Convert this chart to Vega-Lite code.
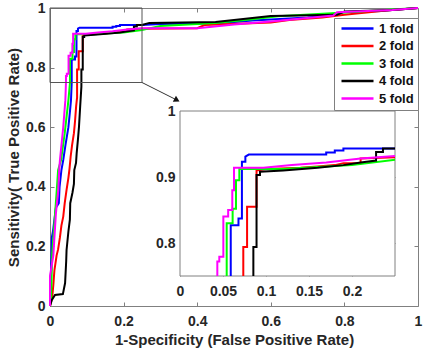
{
  "$schema": "https://vega.github.io/schema/vega-lite/v6.json",
  "width": 368,
  "height": 298,
  "autosize": {"type": "none"},
  "padding": {"left": 50, "top": 8, "right": 11, "bottom": 45},
  "background": "white",
  "config": {
    "font": "Liberation Sans",
    "view": {"stroke": "#808080", "strokeWidth": 1},
    "axis": {
      "grid": false,
      "domain": false,
      "labelFont": "Liberation Sans",
      "labelFontWeight": "bold",
      "labelFontSize": 14,
      "labelColor": "#262626",
      "labelFlush": false,
      "labelOverlap": false,
      "tickColor": "#808080",
      "tickSize": -4,
      "titleFont": "Liberation Sans",
      "titleFontWeight": "bold",
      "titleFontSize": 15,
      "titleColor": "#262626"
    }
  },
  "datasets": {
    "roc": [
      {"fold": "1 fold", "fpr": 0, "tpr": 0},
      {"fold": "1 fold", "fpr": 0, "tpr": 0.06},
      {"fold": "1 fold", "fpr": 0.003, "tpr": 0.12},
      {"fold": "1 fold", "fpr": 0.005, "tpr": 0.23},
      {"fold": "1 fold", "fpr": 0.008, "tpr": 0.25},
      {"fold": "1 fold", "fpr": 0.012, "tpr": 0.29},
      {"fold": "1 fold", "fpr": 0.016, "tpr": 0.33},
      {"fold": "1 fold", "fpr": 0.024, "tpr": 0.345},
      {"fold": "1 fold", "fpr": 0.026, "tpr": 0.4},
      {"fold": "1 fold", "fpr": 0.031, "tpr": 0.456},
      {"fold": "1 fold", "fpr": 0.036, "tpr": 0.49},
      {"fold": "1 fold", "fpr": 0.042, "tpr": 0.54},
      {"fold": "1 fold", "fpr": 0.05, "tpr": 0.6},
      {"fold": "1 fold", "fpr": 0.054, "tpr": 0.65},
      {"fold": "1 fold", "fpr": 0.057, "tpr": 0.69},
      {"fold": "1 fold", "fpr": 0.059, "tpr": 0.75},
      {"fold": "1 fold", "fpr": 0.059, "tpr": 0.827},
      {"fold": "1 fold", "fpr": 0.068, "tpr": 0.827},
      {"fold": "1 fold", "fpr": 0.068, "tpr": 0.837},
      {"fold": "1 fold", "fpr": 0.072, "tpr": 0.837},
      {"fold": "1 fold", "fpr": 0.072, "tpr": 0.923},
      {"fold": "1 fold", "fpr": 0.076, "tpr": 0.923},
      {"fold": "1 fold", "fpr": 0.076, "tpr": 0.931},
      {"fold": "1 fold", "fpr": 0.08, "tpr": 0.934},
      {"fold": "1 fold", "fpr": 0.17, "tpr": 0.934},
      {"fold": "1 fold", "fpr": 0.17, "tpr": 0.937},
      {"fold": "1 fold", "fpr": 0.18, "tpr": 0.937},
      {"fold": "1 fold", "fpr": 0.18, "tpr": 0.94},
      {"fold": "1 fold", "fpr": 0.19, "tpr": 0.94},
      {"fold": "1 fold", "fpr": 0.19, "tpr": 0.943},
      {"fold": "1 fold", "fpr": 0.25, "tpr": 0.943},
      {"fold": "1 fold", "fpr": 0.3, "tpr": 0.946},
      {"fold": "1 fold", "fpr": 0.45, "tpr": 0.948},
      {"fold": "1 fold", "fpr": 0.55, "tpr": 0.958},
      {"fold": "1 fold", "fpr": 0.7, "tpr": 0.968},
      {"fold": "1 fold", "fpr": 0.78, "tpr": 0.977},
      {"fold": "1 fold", "fpr": 0.79, "tpr": 0.986},
      {"fold": "1 fold", "fpr": 0.9, "tpr": 0.99},
      {"fold": "1 fold", "fpr": 0.93, "tpr": 0.993},
      {"fold": "1 fold", "fpr": 1, "tpr": 1},

      {"fold": "2 fold", "fpr": 0, "tpr": 0},
      {"fold": "2 fold", "fpr": 0.006, "tpr": 0.03},
      {"fold": "2 fold", "fpr": 0.009, "tpr": 0.07},
      {"fold": "2 fold", "fpr": 0.012, "tpr": 0.12},
      {"fold": "2 fold", "fpr": 0.018, "tpr": 0.17},
      {"fold": "2 fold", "fpr": 0.022, "tpr": 0.19},
      {"fold": "2 fold", "fpr": 0.027, "tpr": 0.23},
      {"fold": "2 fold", "fpr": 0.031, "tpr": 0.27},
      {"fold": "2 fold", "fpr": 0.036, "tpr": 0.3},
      {"fold": "2 fold", "fpr": 0.04, "tpr": 0.345},
      {"fold": "2 fold", "fpr": 0.045, "tpr": 0.39},
      {"fold": "2 fold", "fpr": 0.05, "tpr": 0.43},
      {"fold": "2 fold", "fpr": 0.053, "tpr": 0.46},
      {"fold": "2 fold", "fpr": 0.056, "tpr": 0.5},
      {"fold": "2 fold", "fpr": 0.06, "tpr": 0.54},
      {"fold": "2 fold", "fpr": 0.065, "tpr": 0.58},
      {"fold": "2 fold", "fpr": 0.068, "tpr": 0.62},
      {"fold": "2 fold", "fpr": 0.071, "tpr": 0.67},
      {"fold": "2 fold", "fpr": 0.0736, "tpr": 0.7},
      {"fold": "2 fold", "fpr": 0.0736, "tpr": 0.75},
      {"fold": "2 fold", "fpr": 0.0736, "tpr": 0.794},
      {"fold": "2 fold", "fpr": 0.078, "tpr": 0.794},
      {"fold": "2 fold", "fpr": 0.078, "tpr": 0.855},
      {"fold": "2 fold", "fpr": 0.089, "tpr": 0.855},
      {"fold": "2 fold", "fpr": 0.089, "tpr": 0.91},
      {"fold": "2 fold", "fpr": 0.1, "tpr": 0.912},
      {"fold": "2 fold", "fpr": 0.14, "tpr": 0.914},
      {"fold": "2 fold", "fpr": 0.16, "tpr": 0.916},
      {"fold": "2 fold", "fpr": 0.18, "tpr": 0.918},
      {"fold": "2 fold", "fpr": 0.19, "tpr": 0.921},
      {"fold": "2 fold", "fpr": 0.21, "tpr": 0.921},
      {"fold": "2 fold", "fpr": 0.21, "tpr": 0.928},
      {"fold": "2 fold", "fpr": 0.25, "tpr": 0.93},
      {"fold": "2 fold", "fpr": 0.4, "tpr": 0.932},
      {"fold": "2 fold", "fpr": 0.42, "tpr": 0.943},
      {"fold": "2 fold", "fpr": 0.6, "tpr": 0.951},
      {"fold": "2 fold", "fpr": 0.65, "tpr": 0.96},
      {"fold": "2 fold", "fpr": 0.74, "tpr": 0.968},
      {"fold": "2 fold", "fpr": 0.8, "tpr": 0.977},
      {"fold": "2 fold", "fpr": 0.9, "tpr": 0.99},
      {"fold": "2 fold", "fpr": 0.93, "tpr": 0.993},
      {"fold": "2 fold", "fpr": 1, "tpr": 1},

      {"fold": "3 fold", "fpr": 0, "tpr": 0},
      {"fold": "3 fold", "fpr": 0.003, "tpr": 0.03},
      {"fold": "3 fold", "fpr": 0.006, "tpr": 0.178},
      {"fold": "3 fold", "fpr": 0.0127, "tpr": 0.29},
      {"fold": "3 fold", "fpr": 0.019, "tpr": 0.4},
      {"fold": "3 fold", "fpr": 0.022, "tpr": 0.456},
      {"fold": "3 fold", "fpr": 0.03, "tpr": 0.49},
      {"fold": "3 fold", "fpr": 0.04, "tpr": 0.58},
      {"fold": "3 fold", "fpr": 0.05, "tpr": 0.69},
      {"fold": "3 fold", "fpr": 0.0543, "tpr": 0.75},
      {"fold": "3 fold", "fpr": 0.0543, "tpr": 0.83},
      {"fold": "3 fold", "fpr": 0.0612, "tpr": 0.83},
      {"fold": "3 fold", "fpr": 0.0612, "tpr": 0.852},
      {"fold": "3 fold", "fpr": 0.0651, "tpr": 0.852},
      {"fold": "3 fold", "fpr": 0.0651, "tpr": 0.895},
      {"fold": "3 fold", "fpr": 0.069, "tpr": 0.895},
      {"fold": "3 fold", "fpr": 0.069, "tpr": 0.912},
      {"fold": "3 fold", "fpr": 0.12, "tpr": 0.912},
      {"fold": "3 fold", "fpr": 0.16, "tpr": 0.915},
      {"fold": "3 fold", "fpr": 0.2, "tpr": 0.918},
      {"fold": "3 fold", "fpr": 0.25, "tpr": 0.926},
      {"fold": "3 fold", "fpr": 0.3, "tpr": 0.94},
      {"fold": "3 fold", "fpr": 0.45, "tpr": 0.95},
      {"fold": "3 fold", "fpr": 0.55, "tpr": 0.962},
      {"fold": "3 fold", "fpr": 0.62, "tpr": 0.972},
      {"fold": "3 fold", "fpr": 0.8, "tpr": 0.985},
      {"fold": "3 fold", "fpr": 0.93, "tpr": 0.995},
      {"fold": "3 fold", "fpr": 1, "tpr": 1},

      {"fold": "4 fold", "fpr": 0, "tpr": 0},
      {"fold": "4 fold", "fpr": 0.005, "tpr": 0.02},
      {"fold": "4 fold", "fpr": 0.0136, "tpr": 0.037},
      {"fold": "4 fold", "fpr": 0.035, "tpr": 0.04},
      {"fold": "4 fold", "fpr": 0.041, "tpr": 0.077},
      {"fold": "4 fold", "fpr": 0.044, "tpr": 0.15},
      {"fold": "4 fold", "fpr": 0.045, "tpr": 0.188},
      {"fold": "4 fold", "fpr": 0.05, "tpr": 0.25},
      {"fold": "4 fold", "fpr": 0.054, "tpr": 0.29},
      {"fold": "4 fold", "fpr": 0.055, "tpr": 0.345},
      {"fold": "4 fold", "fpr": 0.061, "tpr": 0.38},
      {"fold": "4 fold", "fpr": 0.065, "tpr": 0.41},
      {"fold": "4 fold", "fpr": 0.066, "tpr": 0.456},
      {"fold": "4 fold", "fpr": 0.0707, "tpr": 0.48},
      {"fold": "4 fold", "fpr": 0.0725, "tpr": 0.513},
      {"fold": "4 fold", "fpr": 0.076, "tpr": 0.56},
      {"fold": "4 fold", "fpr": 0.0788, "tpr": 0.602},
      {"fold": "4 fold", "fpr": 0.082, "tpr": 0.67},
      {"fold": "4 fold", "fpr": 0.0853, "tpr": 0.736},
      {"fold": "4 fold", "fpr": 0.0853, "tpr": 0.75},
      {"fold": "4 fold", "fpr": 0.0853, "tpr": 0.794},
      {"fold": "4 fold", "fpr": 0.089, "tpr": 0.794},
      {"fold": "4 fold", "fpr": 0.089, "tpr": 0.903},
      {"fold": "4 fold", "fpr": 0.093, "tpr": 0.903},
      {"fold": "4 fold", "fpr": 0.093, "tpr": 0.908},
      {"fold": "4 fold", "fpr": 0.12, "tpr": 0.91},
      {"fold": "4 fold", "fpr": 0.16, "tpr": 0.914},
      {"fold": "4 fold", "fpr": 0.19, "tpr": 0.918},
      {"fold": "4 fold", "fpr": 0.21, "tpr": 0.922},
      {"fold": "4 fold", "fpr": 0.228, "tpr": 0.925},
      {"fold": "4 fold", "fpr": 0.228, "tpr": 0.938},
      {"fold": "4 fold", "fpr": 0.236, "tpr": 0.938},
      {"fold": "4 fold", "fpr": 0.236, "tpr": 0.943},
      {"fold": "4 fold", "fpr": 0.25, "tpr": 0.943},
      {"fold": "4 fold", "fpr": 0.27, "tpr": 0.95},
      {"fold": "4 fold", "fpr": 0.45, "tpr": 0.953},
      {"fold": "4 fold", "fpr": 0.5, "tpr": 0.96},
      {"fold": "4 fold", "fpr": 0.6, "tpr": 0.973},
      {"fold": "4 fold", "fpr": 0.78, "tpr": 0.977},
      {"fold": "4 fold", "fpr": 0.8, "tpr": 0.988},
      {"fold": "4 fold", "fpr": 0.93, "tpr": 0.993},
      {"fold": "4 fold", "fpr": 1, "tpr": 1},

      {"fold": "5 fold", "fpr": 0, "tpr": 0},
      {"fold": "5 fold", "fpr": 0, "tpr": 0.1},
      {"fold": "5 fold", "fpr": 0.009, "tpr": 0.17},
      {"fold": "5 fold", "fpr": 0.016, "tpr": 0.31},
      {"fold": "5 fold", "fpr": 0.0226, "tpr": 0.39},
      {"fold": "5 fold", "fpr": 0.025, "tpr": 0.456},
      {"fold": "5 fold", "fpr": 0.027, "tpr": 0.49},
      {"fold": "5 fold", "fpr": 0.036, "tpr": 0.6},
      {"fold": "5 fold", "fpr": 0.0417, "tpr": 0.69},
      {"fold": "5 fold", "fpr": 0.0434, "tpr": 0.75},
      {"fold": "5 fold", "fpr": 0.0434, "tpr": 0.772},
      {"fold": "5 fold", "fpr": 0.0457, "tpr": 0.772},
      {"fold": "5 fold", "fpr": 0.0457, "tpr": 0.779},
      {"fold": "5 fold", "fpr": 0.0504, "tpr": 0.779},
      {"fold": "5 fold", "fpr": 0.0504, "tpr": 0.84},
      {"fold": "5 fold", "fpr": 0.056, "tpr": 0.84},
      {"fold": "5 fold", "fpr": 0.056, "tpr": 0.85},
      {"fold": "5 fold", "fpr": 0.0608, "tpr": 0.85},
      {"fold": "5 fold", "fpr": 0.0608, "tpr": 0.88},
      {"fold": "5 fold", "fpr": 0.0628, "tpr": 0.88},
      {"fold": "5 fold", "fpr": 0.0628, "tpr": 0.914},
      {"fold": "5 fold", "fpr": 0.097, "tpr": 0.914},
      {"fold": "5 fold", "fpr": 0.13, "tpr": 0.918},
      {"fold": "5 fold", "fpr": 0.17, "tpr": 0.922},
      {"fold": "5 fold", "fpr": 0.21, "tpr": 0.928},
      {"fold": "5 fold", "fpr": 0.25, "tpr": 0.932},
      {"fold": "5 fold", "fpr": 0.4, "tpr": 0.932},
      {"fold": "5 fold", "fpr": 0.5, "tpr": 0.945},
      {"fold": "5 fold", "fpr": 0.6, "tpr": 0.955},
      {"fold": "5 fold", "fpr": 0.77, "tpr": 0.975},
      {"fold": "5 fold", "fpr": 0.78, "tpr": 0.986},
      {"fold": "5 fold", "fpr": 0.93, "tpr": 0.993},
      {"fold": "5 fold", "fpr": 1, "tpr": 1}
    ],
    "zoomBox": [{"x0": 0, "x1": 0.25, "y0": 0.75, "y1": 1}],
    "zoomArrow": [{"x0": 0.25, "y0": 0.75, "x1": 0.345, "y1": 0.691}]
  },
  "layer": [
    {
      "layer": [
        {
          "data": {"name": "roc"},
          "mark": {"type": "line", "strokeWidth": 2},
          "encoding": {
            "x": {
              "field": "fpr", "type": "quantitative",
              "scale": {"domain": [0, 1], "nice": false},
              "axis": {
                "orient": "bottom",
                "values": [0, 0.2, 0.4, 0.6, 0.8, 1],
                "format": "~g",
                "labelPadding": 12,
                "title": "1-Specificity (False Positive Rate)",
                "titlePadding": 4
              }
            },
            "y": {
              "field": "tpr", "type": "quantitative",
              "scale": {"domain": [0, 1], "nice": false},
              "axis": {
                "orient": "left",
                "values": [0, 0.2, 0.4, 0.6, 0.8, 1],
                "format": "~g",
                "labelPadding": 9,
                "title": "Sensitivity( True Positive Rate)",
                "titlePadding": 4
              }
            },
            "color": {
              "field": "fold", "type": "nominal",
              "scale": {
                "domain": ["1 fold", "2 fold", "3 fold", "4 fold", "5 fold"],
                "range": ["#0000ff", "#ff0000", "#00ff00", "#000000", "#ff00ff"]
              },
              "legend": {
                "title": null,
                "orient": "none",
                "legendX": 284,
                "legendY": 10,
                "padding": 4,
                "fillColor": "white",
                "strokeColor": "#808080",
                "symbolType": "M-0.6,0H5.8",
                "symbolSize": 100,
                "symbolStrokeWidth": 2.5,
                "labelOffset": 28,
                "labelFont": "Liberation Sans",
                "labelFontWeight": "bold",
                "labelFontSize": 13,
                "labelColor": "#111111",
                "rowPadding": 3.5
              }
            },
            "order": {"value": null}
          }
        },
        {
          "data": {"name": "zoomBox"},
          "mark": {"type": "rect", "fillOpacity": 0, "stroke": "#555555", "strokeWidth": 1},
          "encoding": {
            "x": {
              "field": "x0", "type": "quantitative",
              "axis": {"orient": "top", "values": [0.2, 0.4, 0.6, 0.8], "labels": false, "title": null}
            },
            "x2": {"field": "x1"},
            "y": {
              "field": "y0", "type": "quantitative",
              "axis": {"orient": "right", "values": [0.2, 0.4, 0.6, 0.8], "labels": false, "title": null}
            },
            "y2": {"field": "y1"}
          }
        },
        {
          "data": {"name": "zoomArrow"},
          "mark": {"type": "rule", "color": "#333333", "strokeWidth": 1},
          "encoding": {
            "x": {"field": "x0", "type": "quantitative", "axis": null},
            "x2": {"field": "x1"},
            "y": {"field": "y0", "type": "quantitative", "axis": null},
            "y2": {"field": "y1"}
          }
        },
        {
          "data": {"name": "zoomArrow"},
          "mark": {"type": "point", "shape": "triangle-right", "filled": true, "color": "#111111", "size": 45, "angle": 28, "opacity": 1},
          "encoding": {
            "x": {"field": "x1", "type": "quantitative", "axis": null},
            "y": {"field": "y1", "type": "quantitative", "axis": null}
          }
        }
      ]
    },
    {
      "layer": [
        {
          "data": {"name": "zoomBox"},
          "mark": {"type": "rect", "fill": "white", "stroke": "#808080", "strokeWidth": 1},
          "encoding": {
            "x": {
              "field": "x0", "type": "quantitative",
              "scale": {"domain": [0, 0.25], "range": [130, 345], "nice": false, "zero": false},
              "axis": {
                "orient": "bottom",
                "offset": -30,
                "values": [0, 0.05, 0.1, 0.15, 0.2],
                "format": "~g",
                "labelPadding": 12,
                "title": null
              }
            },
            "x2": {"field": "x1"},
            "y": {
              "field": "y0", "type": "quantitative",
              "scale": {"domain": [0.75, 1], "range": [268, 103], "nice": false, "zero": false},
              "axis": {
                "orient": "left",
                "offset": -130,
                "values": [0.8, 0.9, 1],
                "format": "~g",
                "labelPadding": 9,
                "title": null
              }
            },
            "y2": {"field": "y1"}
          }
        },
        {
          "data": {"name": "roc"},
          "transform": [{"filter": "datum.fpr <= 0.25 && datum.tpr >= 0.75"}],
          "mark": {"type": "line", "strokeWidth": 2},
          "encoding": {
            "x": {
              "field": "fpr", "type": "quantitative",
              "axis": {"orient": "top", "offset": -103, "values": [0.05, 0.1, 0.15, 0.2], "labels": false, "title": null}
            },
            "y": {
              "field": "tpr", "type": "quantitative",
              "axis": {"orient": "right", "offset": -23, "values": [0.8, 0.9], "labels": false, "title": null}
            },
            "color": {"field": "fold", "type": "nominal"},
            "order": {"value": null}
          }
        }
      ]
    }
  ],
  "resolve": {"scale": {"x": "independent", "y": "independent"}}
}
